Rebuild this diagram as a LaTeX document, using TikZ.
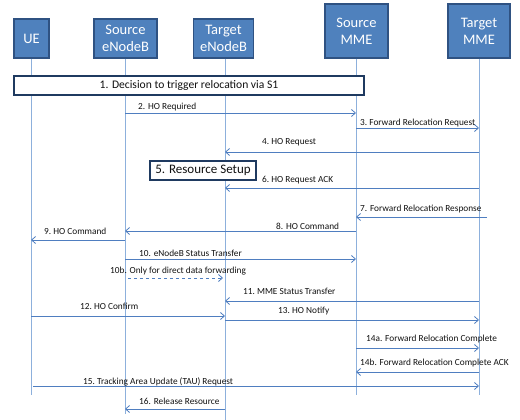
\documentclass[tikz,border=0pt]{standalone}
\usepackage{fontspec}
\setmainfont{Carlito}
\usetikzlibrary{arrows.meta}
\definecolor{hdrfill}{HTML}{4F81BD}
\definecolor{hdrdraw}{HTML}{2F5282}
\definecolor{lifec}{HTML}{8DB0DC}
\definecolor{msgc}{HTML}{4F7EC0}
\definecolor{boxc}{HTML}{1F3A60}
\definecolor{txtc}{HTML}{111111}
\tikzset{
  hdr/.style={draw=hdrdraw, line width=1.5pt, fill=hdrfill, text=white, align=center,
    inner sep=0pt, font=\fontsize{14.5}{17}\selectfont},
  life/.style={draw=lifec, line width=0.9pt},
  msg/.style={draw=msgc, line width=0.8pt, -{Straight Barb[length=4pt,width=7pt]}},
  dmsg/.style={msg, dashed},
  lbl/.style={text=txtc, anchor=base west, inner sep=0pt, font=\fontsize{9.3}{10}\selectfont},
  stepbox/.style={draw=boxc, line width=1.8pt, fill=white, text=txtc, inner sep=0pt}
}
\begin{document}
\begin{tikzpicture}[x=1pt,y=-1pt]
\useasboundingbox (0,0) rectangle (520,420);
% header nodes
\node[hdr, minimum width=35pt, minimum height=39pt] (ue) at (31.5,38.5) {UE};
\node[hdr, minimum width=63pt, minimum height=39pt] (se) at (125.5,38.5) {Source\\eNodeB};
\node[hdr, minimum width=60pt, minimum height=39pt] (te) at (223.5,38.5) {Target\\eNodeB};
\node[hdr, minimum width=63pt, minimum height=54pt] (sm) at (356.5,31) {Source\\MME};
\node[hdr, minimum width=62pt, minimum height=54pt] (tm) at (479,31) {Target\\MME};
% lifeline ends
\coordinate (ueE) at (31,395);
\coordinate (seE) at (125,414);
\coordinate (teE) at (225,420);
\coordinate (smE) at (356,395);
\coordinate (tmE) at (479,395);
\draw[life] (ue.south -| ueE) -- (ueE);
\draw[life] (se.south -| seE) -- (seE);
\draw[life] (te.south -| teE) -- (teE);
\draw[life] (sm.south -| smE) -- (smE);
\draw[life] (tm.south -| tmE) -- (tmE);
% step boxes
\node[stepbox, minimum width=350pt, minimum height=19pt, font=\fontsize{11.6}{13}\selectfont] (s1) at (189,85.5) {1. Decision to trigger relocation via S1};
\node[stepbox, minimum width=106pt, minimum height=19pt, font=\fontsize{13}{15}\selectfont] (s5) at (203,170.5) {5. Resource Setup};
% messages
\draw[msg] (seE |- 0,113) -- (smE |- 0,113);
\node[lbl] (l2) at (138,110) {2. HO Required};
\draw[msg] (smE |- 0,128) -- (tmE |- 0,128);
\node[lbl] (l3) at (360,125) {3.\ Forward Relocation Request};
\draw[msg] (tmE |- 0,152) -- (teE |- 0,152);
\node[lbl] (l4) at (262,145) {4.\ HO Request};
\draw[msg] (tmE |- 0,188) -- (teE |- 0,188);
\node[lbl] (l6) at (262,182) {6.\ HO Request ACK};
\coordinate (m7s) at (487,217);
\draw[msg] (m7s) -- (smE |- m7s);
\node[lbl] (l7) at (360,211) {7. Forward Relocation Response};
\draw[msg] (smE |- 0,231) -- (seE |- 0,231);
\node[lbl] (l8) at (276,229) {8. HO Command};
\draw[msg] (seE |- 0,240) -- (ueE |- 0,240);
\node[lbl] (l9) at (44,234) {9.\ HO Command};
\draw[msg] (seE |- 0,259) -- (smE |- 0,259);
\node[lbl] (l10) at (139,256) {10. eNodeB Status Transfer};
\coordinate (m10bs) at (128,278);
\coordinate (m10be) at (223,278);
\draw[dmsg] (m10bs) -- (m10be);
\node[lbl] (l10b) at (110,273) {10b. Only for direct data forwarding};
\draw[msg] (tmE |- 0,301) -- (teE |- 0,301);
\node[lbl] (l11) at (243,294) {11.\ MME Status Transfer};
\draw[msg] (ueE |- 0,316) -- (teE |- 0,316);
\node[lbl] (l12) at (80,309) {12.\ HO Confirm};
\draw[msg] (teE |- 0,320) -- (tmE |- 0,320);
\node[lbl] (l13) at (278,313) {13.\ HO Notify};
\draw[msg] (smE |- 0,348) -- (tmE |- 0,348);
\node[lbl] (l14a) at (366,341) {14a. Forward Relocation Complete};
\draw[msg] (tmE |- 0,372) -- (smE |- 0,372);
\node[lbl] (l14b) at (360,365) {14b. Forward Relocation Complete ACK};
\coordinate (m15s) at (33,386);
\draw[msg] (m15s) -- (tmE |- m15s);
\node[lbl] (l15) at (83,384) {15.\ Tracking Area Update (TAU) Request};
\draw[msg] (teE |- 0,409) -- (seE |- 0,409);
\node[lbl] (l16) at (139,404) {16. Release Resource};
\end{tikzpicture}
\end{document}
